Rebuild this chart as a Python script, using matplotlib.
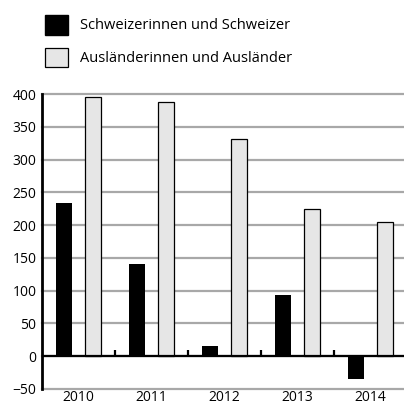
import matplotlib
matplotlib.use('Agg')
import matplotlib.pyplot as plt
from matplotlib.patches import Patch
import numpy as np

years = ['2010', '2011', '2012', '2013', '2014']
schweizer = [233, 140, 16, 93, -34]
auslaender = [396, 388, 332, 224, 204]
labels = ['Schweizerinnen und Schweizer', 'Ausländerinnen und Ausländer']
y_ticks = [-50, 0, 50, 100, 150, 200, 250, 300, 350, 400]

plt.rcParams['font.family'] = ['Open Sans', 'DejaVu Sans']

fig = plt.figure(figsize=(4.04, 4.05), dpi=100)
ax = fig.add_axes([42 / 404, 16 / 405, 362 / 404, 295 / 405])

x = np.arange(len(years))
width = 0.22
ax.bar(x - 0.2, schweizer, width, color='black', zorder=3)
ax.bar(x + 0.2, auslaender, width, color='#e6e6e6', edgecolor='black',
       linewidth=0.9, zorder=3)

# grid lines and zero line
for t in y_ticks:
    ax.axhline(t, color='#a8a8a8', linewidth=1.6, zorder=1, clip_on=False)
ax.axhline(0, color='black', linewidth=1.6, zorder=4)

# small separators between years
ax.vlines(x[:-1] + 0.5, 0, 9, color='black', linewidth=1.6, zorder=4)

ax.set_xlim(-0.5, -0.5 + 362 / 73)
ax.set_ylim(-50, 400)
ax.set_yticks(y_ticks)
ax.set_xticks(x)
ax.set_xticklabels(years)
ax.tick_params(axis='both', length=0, labelsize=10)
ax.tick_params(axis='x', pad=1)
ax.tick_params(axis='y', pad=4)

for side in ['top', 'right', 'bottom']:
    ax.spines[side].set_visible(False)
ax.spines['left'].set_linewidth(2)
ax.spines['left'].set_zorder(5)

handles = [Patch(facecolor='black', edgecolor='black'),
           Patch(facecolor='#e6e6e6', edgecolor='black', linewidth=0.9)]
fig.legend(handles, labels, loc='upper left', bbox_to_anchor=(39 / 404, 1 - 9 / 405),
           frameon=False, fontsize=10.5, handlelength=1.6, handleheight=1.7,
           labelspacing=0.9, handletextpad=0.8, borderpad=0.4, borderaxespad=0)

fig.savefig('out.png', dpi=100)
